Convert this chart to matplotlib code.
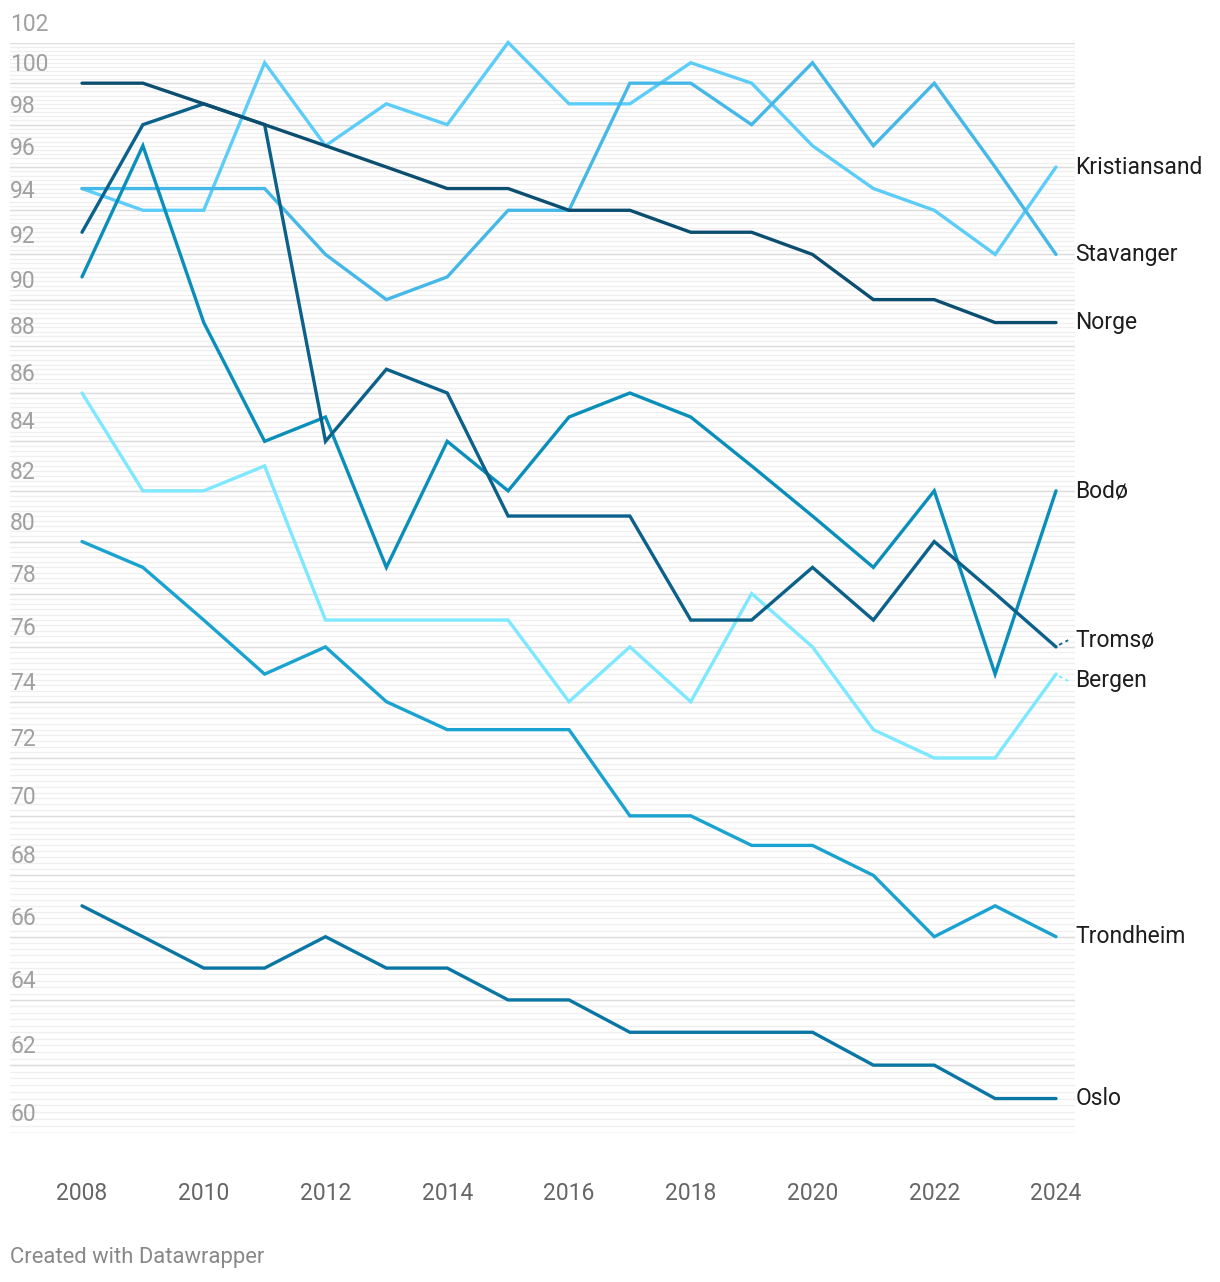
import numpy as np
import matplotlib
matplotlib.use("Agg")
import matplotlib.pyplot as plt
from matplotlib.ticker import NullFormatter, NullLocator

years = list(range(2008, 2025))

norge = [100, 100, 99, 98, 97, 96, 95, 95, 94, 94, 93, 93, 92, 90, 90, 89, 89]
tromso = [93, 98, 99, 98, 84, 87, 86, 81, 81, 81, 77, 77, 79, 77, 80, 78, 76]
oslo = [67, 66, 65, 65, 66, 65, 65, 64, 64, 63, 63, 63, 63, 62, 62, 61, 61]
bodo = [91, 97, 89, 84, 85, 79, 84, 82, 85, 86, 85, 83, 81, 79, 82, 75, 82]
trondheim = [80, 79, 77, 75, 76, 74, 73, 73, 73, 70, 70, 69, 69, 68, 66, 67, 66]
stavanger = [95, 95, 95, 95, 92, 90, 91, 94, 94, 100, 100, 98, 101, 97, 100, 96, 92]
kristiansand = [95, 94, 94, 101, 97, 99, 98, 102, 99, 99, 101, 100, 97, 95, 94, 92, 96]
bergen = [86, 82, 82, 83, 77, 77, 77, 77, 74, 76, 74, 78, 76, 73, 72, 72, 75]

series = [
    ("Bergen", bergen, "#7de8ff"),
    ("Kristiansand", kristiansand, "#5ccdf9"),
    ("Stavanger", stavanger, "#45b8e7"),
    ("Trondheim", trondheim, "#1aa3d0"),
    ("Bodø", bodo, "#0a8fbb"),
    ("Oslo", oslo, "#0a76a3"),
    ("Tromsø", tromso, "#0b6189"),
    ("Norge", norge, "#0b4e6f"),
]

# label value positions (nudged where labels would collide)
label_pos = {"Tromsø": 76.25, "Bergen": 74.75}

y_ticks = list(range(60, 103, 2))
x_ticks = list(range(2008, 2025, 2))

plt.rcParams["font.family"] = ["Roboto", "DejaVu Sans"]

W, H = 1220, 1282
fig = plt.figure(figsize=(W / 100, H / 100), dpi=100)
ax = fig.add_axes([10 / W, 1 - 1132.5 / H, 1065 / W, 1090 / H])
ax.set_yscale("log")
ax.set_ylim(60, 102)
ax.set_xlim(2008 - 72 / 60.875, 2024 + 19 / 60.875)

for s in ax.spines.values():
    s.set_visible(False)
ax.yaxis.set_major_locator(NullLocator())
ax.yaxis.set_minor_locator(NullLocator())
ax.yaxis.set_minor_formatter(NullFormatter())
ax.set_xticks(x_ticks)
ax.tick_params(axis="x", length=0, pad=36, labelsize=16.5, labelcolor="#666666")

# grid
for v in np.arange(60, 102.01, 0.2):
    ax.axhline(v, color="#efefef", lw=0.9, zorder=0)
for v in y_ticks:
    ax.axhline(v, color="#dddddd", lw=1.0, zorder=0.5)
    ax.annotate(str(v), xy=(0, v), xycoords=("axes fraction", "data"),
                xytext=(0, 5), textcoords="offset points", ha="left", va="bottom",
                fontsize=16.5, color="#a0a0a0")

for name, vals, col in series:
    ax.plot(years, vals, color=col, lw=2.4, clip_on=False, zorder=3,
            solid_joinstyle="miter", solid_capstyle="round")
    ly = label_pos.get(name, vals[-1])
    if name in label_pos:
        ax.plot([2024.05, 2024.2], [vals[-1] + (ly - vals[-1]) * 0.3, ly],
                color=col, lw=1.3, ls=(0, (2, 2)), clip_on=False, zorder=3)
    ax.annotate(name, xy=(2024, ly), xytext=(14, 0), textcoords="offset points",
                ha="left", va="center", fontsize=16.5, color="#1d1d1d",
                annotation_clip=False)

fig.text(10 / W, 1 - 1258 / H, "Created with Datawrapper", ha="left", va="center",
         fontsize=15.8, color="#888888")

fig.savefig("out.png", dpi=100)
